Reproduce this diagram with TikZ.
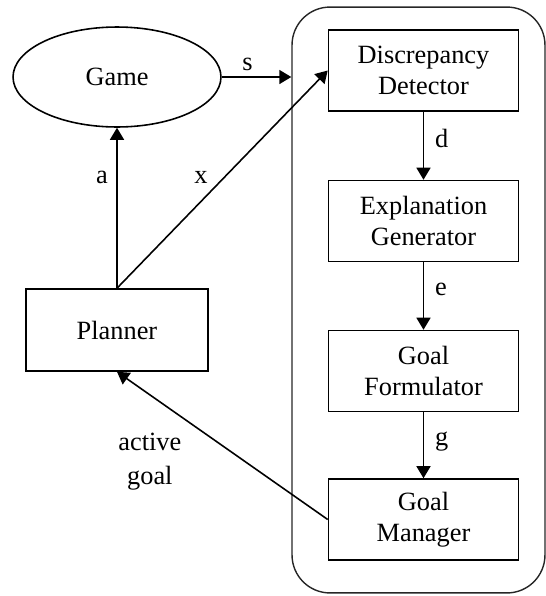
\documentclass[tikz,border=0pt]{standalone}
\usepackage{fontspec}
\setmainfont{Liberation Serif}
\usetikzlibrary{arrows.meta,shapes.geometric}
\begin{document}
\begin{tikzpicture}[x=0.02cm, y=-0.02cm, font=\fontsize{15}{17.5}\selectfont]
% Definição de estilos
\tikzset{
  module/.style={rectangle, draw, line width=0.9pt, align=center, minimum width=3.8cm, minimum height=1.62cm},
  world/.style={ellipse, draw, line width=0.9pt, minimum width=4.16cm, minimum height=2cm},
  frame/.style={rectangle, draw=black!85, line width=0.8pt, rounded corners=0.76cm, minimum width=5.06cm, minimum height=11.72cm},
  flow/.style={-{Triangle[length=0.24cm, width=0.28cm]}, line width=0.9pt}
}
\useasboundingbox (0,0) rectangle (546,596);

% Moldura do agente
\node[frame] (agent) at (418.5,300) {};

% Ambiente e planejador
\node[world] (game) at (117,77) {Game};
\node[module, minimum width=3.64cm, minimum height=1.64cm] (planner) at (117,330) {Planner};

% Componentes do ciclo
\node[module] (detector) at (423.5,70.5) {Discrepancy\\Detector};
\node[module] (explainer) at (423.5,221) {Explanation\\Generator};
\node[module] (formulator) at (423.5,371) {Goal\\Formulator};
\node[module] (manager) at (423.5,519.5) {Goal\\Manager};

% Relacionamentos
\draw[flow] (game.east) -- node[above, pos=0.37] {s} (game.east -| agent.west);
\draw[flow] (planner.north) -- node[left, pos=0.69, xshift=-0.05cm] {a} (game.south);
\draw[flow] (planner.north) -- node[left, pos=0.52, xshift=-0.25cm, yshift=-0.05cm] {x} (detector.west);

\draw[flow] (detector) -- node[right, pos=0.4, xshift=0.1cm] {d} (explainer);
\draw[flow] (explainer) -- node[right, pos=0.4, xshift=0.1cm] {e} (formulator);
\draw[flow] (formulator) -- node[right, pos=0.45, xshift=0.1cm] {g} (manager);

\draw[flow] (manager.west) -- node[pos=0.5, xshift=-1.45cm, yshift=-0.32cm, align=center, font=\fontsize{15}{19.3}\selectfont] {active\\goal} (planner.south);

\end{tikzpicture}
\end{document}
